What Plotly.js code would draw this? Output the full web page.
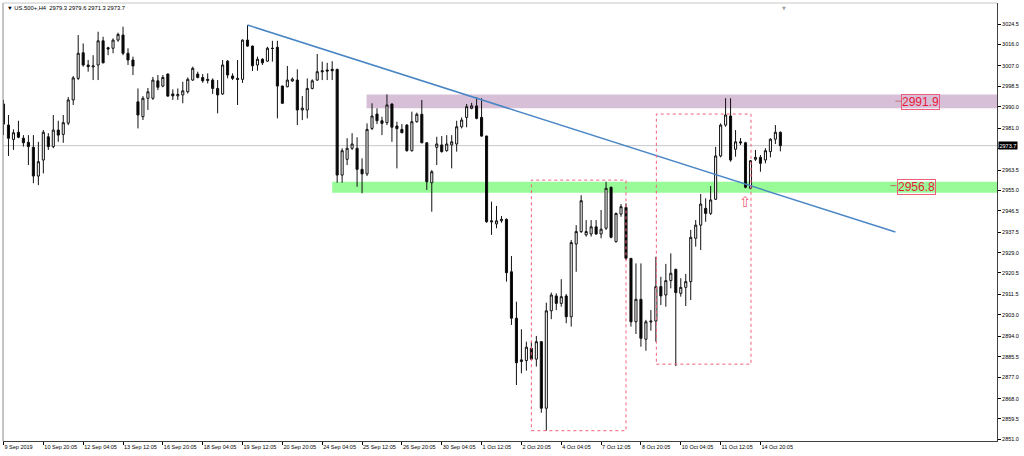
<!DOCTYPE html>
<html><head><meta charset="utf-8">
<script src="https://cdn.plot.ly/plotly-3.0.1.min.js"></script>
<style>html,body{margin:0;padding:0;background:#fff;overflow:hidden}#chart{width:1024px;height:456px}</style>
</head><body><div id="chart"></div>
<script>
const symbolTitle = '\u25BC US.500+,H4  2979.3 2979.6 2971.3 2973.7';
const tickLabels = ['9 Sep 2019','10 Sep 20:05','12 Sep 04:05','13 Sep 12:05','16 Sep 20:05','18 Sep 04:05','19 Sep 12:05','20 Sep 20:05','24 Sep 04:05','25 Sep 12:05','26 Sep 20:05','30 Sep 04:05','1 Oct 12:05','2 Oct 20:05','4 Oct 04:05','7 Oct 12:05','8 Oct 20:05','10 Oct 04:05','11 Oct 12:05','14 Oct 20:05'];
const barsPerTick = 8;

const opens = [2991.1,2982.3,2976.3,2979.3,2976.8,2975.1,2973.0,2961.0,2967.7,2977.4,2973.3,2980.2,2978.4,2983.1,2992.8,3001.8,3012.5,3007.4,3006.6,3007.4,3017.5,3014.6,3014.4,3017.8,3019.9,3012.3,3009.5,2992.0,2985.8,2993.5,2993.5,3000.8,2998.6,3003.6,2995.3,2994.5,2994.9,2996.2,3001.1,3003.6,3002.2,3001.4,3001.1,2997.6,2995.3,3009.0,3002.8,3001.8,3001.4,3017.8,3015.3,3007.4,3009.8,3009.0,3014.4,3014.8,2998.6,2998.3,3000.7,3001.1,2988.6,2988.6,2997.6,3001.1,3005.0,3005.3,3005.6,3005.6,2961.4,2968.0,2972.6,2972.6,2963.8,2961.9,2980.9,2986.9,2984.1,2983.3,2991.1,2981.9,2980.5,2982.3,2971.6,2983.7,2986.8,2974.9,2958.2,2973.0,2974.0,2971.6,2974.0,2974.4,2981.6,2985.5,2989.3,2990.3,2985.5,2977.7,2942.3,2941.0,2942.3,2942.9,2921.0,2901.6,2883.5,2883.9,2889.0,2884.5,2891.8,2864.0,2904.7,2910.9,2907.8,2910.9,2902.2,2932.6,2937.8,2936.4,2936.8,2939.8,2936.8,2939.2,2956.3,2933.6,2945.1,2947.9,2926.6,2900.1,2909.5,2892.8,2900.0,2900.4,2914.8,2911.3,2917.3,2922.0,2912.0,2914.5,2916.9,2935.0,2940.5,2947.5,2945.4,2951.3,2969.4,2982.3,2986.1,2972.2,2975.3,2974.9,2955.9,2968.0,2968.8,2967.7,2971.2,2976.4,2979.3];
const highs = [2992.8,2986.5,2980.5,2984.1,2978.1,2978.1,2978.1,2975.3,2980.2,2978.9,2986.5,2984.1,2986.5,2994.0,3002.8,3019.9,3016.4,3009.5,3011.5,3021.3,3019.2,3015.0,3018.5,3020.9,3023.4,3014.4,3010.9,2997.6,2994.4,2997.8,3002.4,3003.2,3003.2,3003.9,2997.2,2997.6,3000.4,3002.2,3006.7,3004.6,3003.6,3003.9,3001.8,3001.1,3009.5,3009.5,3003.9,3009.5,3018.1,3024.1,3015.5,3010.9,3010.2,3015.0,3017.5,3017.5,2998.8,3007.0,3002.2,3005.6,2994.4,3001.8,3001.4,3012.0,3008.8,3008.3,3009.0,3005.8,2972.6,2976.8,2978.9,2977.2,2968.4,2983.0,2991.4,2989.3,2985.8,2995.1,2991.4,2983.7,2982.7,2982.7,2987.9,2987.5,2992.8,2975.1,2963.5,2977.4,2977.7,2978.1,2978.1,2984.1,2985.5,2991.1,2991.6,2993.9,2993.5,2977.9,2950.3,2948.5,2944.3,2943.3,2927.6,2908.5,2897.0,2891.8,2891.8,2894.2,2892.0,2908.1,2912.3,2912.0,2917.9,2911.7,2934.3,2940.5,2953.0,2942.6,2942.6,2942.6,2946.8,2958.6,2956.6,2945.7,2949.3,2949.6,2926.8,2924.5,2924.5,2900.9,2905.0,2927.3,2918.9,2924.3,2928.7,2922.3,2918.3,2920.1,2938.5,2942.6,2953.5,2951.7,2956.8,2973.2,2983.0,2993.5,2993.5,2980.2,2976.9,2975.3,2967.7,2971.9,2969.8,2972.6,2976.8,2982.3,2979.6];
const lows = [2978.1,2969.4,2971.9,2976.8,2973.3,2965.6,2958.0,2957.2,2962.1,2971.9,2972.6,2975.3,2974.9,2982.3,2990.7,3001.1,3006.7,3004.6,3001.1,3001.1,3008.1,3011.5,3012.3,3017.1,3011.5,3007.4,3003.2,2980.9,2984.4,2988.6,2992.8,2996.9,2998.1,2994.1,2992.8,2992.8,2991.4,2995.5,3000.8,3001.8,3000.0,2999.7,2995.3,2987.2,2994.9,3001.8,3001.1,2990.7,2999.9,3015.0,3004.9,3005.0,3007.4,3008.8,3008.8,2985.1,2991.2,2998.1,3000.4,2982.3,2984.4,2985.1,2997.2,3000.8,3001.1,3001.1,3001.1,2958.2,2958.2,2965.6,2971.9,2956.5,2953.8,2961.0,2980.2,2982.7,2978.1,2982.3,2975.3,2964.2,2978.9,2971.2,2971.2,2983.3,2974.7,2955.2,2946.1,2965.6,2970.8,2971.2,2964.2,2971.2,2980.9,2981.4,2988.9,2984.7,2977.4,2941.5,2936.4,2939.2,2941.5,2916.9,2898.8,2873.7,2878.6,2879.7,2884.2,2881.4,2862.1,2854.6,2901.2,2905.0,2906.4,2899.5,2898.1,2921.0,2937.2,2935.7,2935.7,2936.4,2935.0,2938.5,2935.0,2933.2,2944.0,2925.9,2898.1,2895.0,2889.7,2888.0,2896.4,2891.8,2907.1,2906.4,2914.1,2881.6,2910.6,2906.7,2909.2,2931.5,2930.1,2941.9,2944.7,2951.0,2968.8,2981.6,2967.0,2969.1,2974.0,2955.9,2955.5,2967.3,2962.8,2966.3,2968.8,2974.4,2971.3];
const closes = [2982.7,2976.8,2979.1,2977.2,2974.9,2973.3,2961.0,2967.0,2979.3,2973.3,2980.2,2978.1,2983.3,2992.8,3002.0,3012.3,3007.4,3006.7,3007.0,3017.5,3008.3,3014.1,3017.8,3020.2,3012.3,3009.5,3007.0,2986.5,2993.5,2996.2,3001.1,2998.1,3002.2,2994.4,2994.5,2995.1,2996.6,3001.4,3006.0,3002.2,3000.8,3001.0,2997.6,2994.9,3007.4,3003.2,3001.8,3001.4,3017.8,3015.3,3007.1,3009.8,3008.3,3014.4,3014.3,2998.6,2991.4,3001.1,3001.5,2988.6,2989.4,2997.6,3000.8,3004.6,3004.6,3004.9,3005.0,2961.4,2971.6,2972.6,2974.4,2963.8,2961.9,2980.5,2986.1,2984.1,2983.0,2990.7,2981.4,2980.8,2979.1,2971.6,2983.7,2986.8,2974.9,2958.6,2962.8,2974.4,2971.2,2974.4,2975.3,2981.6,2984.4,2990.0,2990.3,2985.1,2977.7,2941.9,2941.9,2942.3,2942.9,2920.6,2901.6,2883.0,2884.2,2889.5,2884.5,2891.8,2864.0,2904.7,2911.3,2907.8,2910.6,2902.2,2933.2,2937.8,2950.7,2937.8,2939.8,2936.8,2938.8,2955.9,2935.4,2945.4,2948.2,2926.6,2900.1,2909.5,2893.2,2900.1,2900.4,2914.8,2910.9,2917.3,2920.4,2912.3,2914.5,2916.9,2935.4,2940.5,2949.3,2945.4,2951.0,2969.4,2982.3,2986.5,2967.7,2975.3,2974.9,2956.3,2967.4,2968.8,2966.3,2971.6,2976.4,2979.3,2973.7];

const yTicks = [3024.5,3016.0,3007.0,2998.5,2990.0,2981.0,2972.5,2963.5,2955.0,2946.5,2937.5,2929.0,2920.5,2911.5,2903.0,2894.0,2885.5,2877.0,2868.0,2859.5,2851.0];

const resistanceZone = [2989.3, 2995.1];
const resistanceLevel = 2991.9;
const resistanceStartBar = 73;
const supportZone = [2954.0, 2958.6];
const supportLevel = 2956.8;
const supportStartBar = 66;
const trendFrom = [49, 3024.1];
const trendTo = [179.1, 2937.6];
const boxA = {bars: [106, 125], prices: [2854.6, 2959.3]};
const boxB = {bars: [131.1, 150.1], prices: [2882.4, 2986.9]};
const signalBar = 149;
const signalPrice = 2950.0;
const lastPrice = 2973.7;

const xRange = [-0.1, 199.5];
const yRange = [2850.3, 3033.3];
const barIdx = opens.map((_, k) => k);
const tickVals = tickLabels.map((_, k) => k * barsPerTick);
const fmt = v => v.toFixed(1);

const font = 'Liberation Sans, Arial, sans-serif';
const red = '#e8173d';
const boxRed = '#ef5f7c';

const candles = {
  type: 'candlestick', x: barIdx, open: opens, high: highs, low: lows, close: closes,
  increasing: {line: {color: '#111', width: 1}, fillcolor: '#ffffff'},
  decreasing: {line: {color: '#111', width: 1}, fillcolor: '#000000'},
  whiskerwidth: 0, hoverinfo: 'skip', showlegend: false
};

const shapes = [
  {type:'rect', xref:'x', yref:'y', x0:resistanceStartBar-0.1, x1:xRange[1], y0:resistanceZone[0], y1:resistanceZone[1], fillcolor:'#d8bfd8', line:{width:0}, layer:'below'},
  {type:'rect', xref:'x', yref:'y', x0:supportStartBar, x1:xRange[1], y0:supportZone[0], y1:supportZone[1], fillcolor:'#98fb98', line:{width:0}, layer:'below'},
  {type:'line', xref:'paper', yref:'y', x0:0, x1:1, y0:lastPrice, y1:lastPrice, line:{color:'#c8c8c8', width:1}, layer:'below'},
  {type:'line', xref:'x', yref:'y', x0:trendFrom[0], y0:trendFrom[1], x1:trendTo[0], y1:trendTo[1], line:{color:'#4a86c5', width:1.5}},
  {type:'rect', xref:'x', yref:'y', x0:boxA.bars[0], x1:boxA.bars[1], y0:boxA.prices[0], y1:boxA.prices[1], line:{color:boxRed, width:1, dash:'dot'}},
  {type:'rect', xref:'x', yref:'y', x0:boxB.bars[0], x1:boxB.bars[1], y0:boxB.prices[0], y1:boxB.prices[1], line:{color:boxRed, width:1, dash:'dot'}},
  {type:'line', xref:'x', yref:'y', x0:179.1, x1:180.4, y0:2992.3, y1:2992.3, line:{color:'#c07070', width:1}},
  {type:'line', xref:'x', yref:'y', x0:178.1, x1:179.3, y0:2957.0, y1:2957.0, line:{color:'#c07070', width:1}},
  {type:'line', xref:'paper', yref:'paper', x0:0, x1:0, y0:0, y1:1, line:{color:'#8a8a8a', width:1}},
  {type:'line', xref:'paper', yref:'paper', x0:0, x1:1, y0:1, y1:1, line:{color:'#c8c8c8', width:1}}
];

const annotations = [
  {xref:'paper', yref:'paper', x:0.002, y:0.999, xanchor:'left', yanchor:'top', text:symbolTitle, showarrow:false, font:{family:font, size:5.8, color:'#000'}},
  {xref:'x', yref:'y', x:184.2, y:2992.0, text:fmt(resistanceLevel), showarrow:false, font:{family:font, size:12, color:red}, bordercolor:boxRed, borderwidth:1, borderpad:0},
  {xref:'x', yref:'y', x:183.3, y:2956.6, text:fmt(supportLevel), showarrow:false, font:{family:font, size:12, color:red}, bordercolor:boxRed, borderwidth:1, borderpad:0},
  {xref:'x', yref:'y', x:signalBar, y:signalPrice, text:'\u21E7', showarrow:false, font:{family:'DejaVu Sans', size:15, color:boxRed}},
  {xref:'paper', yref:'y', x:1.0015, y:lastPrice, xanchor:'left', text:fmt(lastPrice), showarrow:false, bgcolor:'#000', font:{family:font, size:5.5, color:'#fff'}, borderpad:0.5},
  {xref:'paper', yref:'paper', x:0.7897, y:1.0, yanchor:'top', text:'\u25BC', showarrow:false, font:{family:'DejaVu Sans', size:5, color:'#a0a0a0'}}
];

const layout = {
  width: 1024, height: 456,
  margin: {l: 3, r: 27, t: 3, b: 15},
  paper_bgcolor: '#ffffff', plot_bgcolor: '#ffffff',
  boxgap: 0.4,
  showlegend: false,
  xaxis: {
    range: xRange, tickmode: 'array', tickvals: tickVals, ticktext: tickLabels,
    ticks: 'outside', ticklen: 3, tickcolor: '#000', tickwidth: 1,
    tickangle: 0, ticklabelposition: 'outside right',
    tickfont: {family: font, size: 5.5, color: '#000'},
    showgrid: false, zeroline: false, showline: true, linecolor: '#404040', linewidth: 1,
    rangeslider: {visible: false}, fixedrange: true
  },
  yaxis: {
    side: 'right', range: yRange, tickmode: 'array', tickvals: yTicks,
    ticktext: yTicks.map(v => v === 2972.5 ? '' : fmt(v)),
    ticks: 'outside', ticklen: 3, tickcolor: '#000', tickwidth: 1,
    tickfont: {family: font, size: 5.5, color: '#000'},
    showgrid: false, zeroline: false, showline: true, linecolor: '#404040', linewidth: 1,
    fixedrange: true
  },
  shapes: shapes,
  annotations: annotations
};

Plotly.newPlot('chart', [candles], layout, {displayModeBar: false, staticPlot: true});
</script>
</body></html>
